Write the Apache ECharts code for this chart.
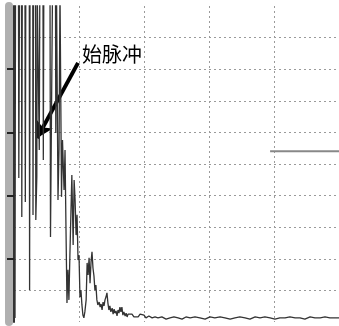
<!DOCTYPE html>
<html>
<head>
<meta charset="utf-8">
<script src="https://cdn.jsdelivr.net/npm/echarts@6/dist/echarts.min.js"></script>
<style>html,body{margin:0;padding:0;background:#fff;}#c{width:339px;height:326px;}</style>
</head>
<body>
<div id="c"></div>
<script>
// Time base (% of screen width) and echo amplitude (% of screen height); 105 = saturated (off screen)
const time = [0.31,0.46,1.38,1.48,1.69,2.31,2.40,2.55,3.38,3.48,3.63,4.71,4.80,4.92,5.78,5.85,6.00,6.62,6.71,7.02,7.14,7.69,7.78,7.94,8.92,9.02,9.17,11.08,11.23,11.85,12.77,12.86,13.08,13.38,13.54,13.85,14.15,14.46,14.62,14.92,15.4,15.7,16.0,16.3,16.6,16.9,17.2,17.5,17.8,18.2,18.5,18.8,19.1,19.4,19.7,20.0,20.3,20.6,20.9,21.2,21.5,21.8,22.2,22.5,22.8,23.1,23.4,23.7,24.0,24.3,24.6,24.9,25.2,25.5,25.8,26.2,26.5,26.8,27.1,27.4,27.7,28.0,28.3,28.6,28.9,29.2,29.5,29.8,30.2,30.5,30.8,31.1,31.4,31.7,32.0,32.3,32.6,32.9,33.2,33.5,33.8,34.2,34.5,34.8,35.1,35.7,36.3,36.9,37.5,38.2,38.8,39.4,40.0,40.6,41.5,42.5,43.4,44.3,45.5,46.8,48.0,49.2,50.5,51.7,52.9,54.2,55.7,57.2,58.8,60.3,61.8,63.4,64.9,66.5,68.0,69.5,71.1,72.6,74.2,75.7,77.2,78.8,80.3,81.8,83.4,84.9,86.5,88.0,89.5,91.1,92.6,94.2,95.7,97.2,98.8,100];
const amplitude = [1.3,105,105,45.6,105,105,33.2,105,105,38.0,105,105,10.1,105,105,33.9,105,105,32.3,45.9,105,105,54.4,105,105,51.3,105,105,26.9,105,105,59.8,105,105,38.6,54.4,105,105,39.6,57.6,41.8,54.4,29.1,6.0,16.5,7.0,21.2,33.9,46.5,24.4,44.9,38.6,27.5,33.9,19.6,21.2,7.9,10.1,5.4,2.2,1.3,3.2,7.0,18.7,14.9,20.3,12.3,19.0,22.2,17.1,14.6,10.1,11.7,7.0,5.4,6.3,4.7,5.7,3.8,6.3,5.1,7.0,7.9,9.2,6.0,3.8,5.1,3.2,4.4,2.5,4.1,2.8,3.5,1.9,3.8,2.8,4.7,3.2,4.7,2.2,3.2,1.9,2.8,1.6,2.5,1.9,2.5,1.6,2.2,1.6,2.5,1.9,2.2,1.3,1.9,1.3,1.6,1.3,1.6,0.9,1.3,1.6,1.3,0.9,1.6,1.3,1.6,1.3,0.9,1.6,1.3,1.6,1.3,0.9,1.3,1.6,1.3,0.9,1.6,1.3,1.6,1.3,0.9,1.3,1.3,1.6,1.3,1.3,0.9,1.6,1.3,1.3,1.6,1.3,1.3,1.3];
// Gate marker
const gateTime = [78.8, 100];
const gateLevel = [54, 54];
// Annotation arrow (tail -> head) and label
const arrowFrom = [19.7, 82];
const arrowTo = [7.1, 58.2];
const labelText = '始脉冲';
const tickLevels = [20, 40, 60, 80];

const chart = echarts.init(document.getElementById('c'), null, {renderer: 'canvas'});
const grid = {left: 14, right: 0, top: 6, bottom: 4};
const dotted = {show: true, showMinLine: false, showMaxLine: false, lineStyle: {color: '#9a9a9a', type: [2, 3], width: 1}};
chart.setOption({
  animation: false,
  backgroundColor: '#ffffff',
  grid: grid,
  xAxis: {type: 'value', min: 0, max: 100, interval: 20, axisLine: {show: false}, axisTick: {show: false}, axisLabel: {show: false}, splitLine: dotted},
  yAxis: [
    {type: 'value', min: 0, max: 100, interval: 10, z: 3, axisLine: {show: true, lineStyle: {color: '#333', width: 2}}, axisTick: {show: false}, axisLabel: {show: false}, splitLine: dotted},
    {type: 'value', min: 0, max: 100, interval: 20, position: 'left', z: 4, axisLine: {show: false}, axisTick: {show: true, length: 7, customValues: tickLevels, lineStyle: {color: '#222', width: 2}}, axisLabel: {show: false}, splitLine: {show: false}},
    {type: 'value', min: 0, max: 100, position: 'left', offset: 5, z: 2, axisLine: {show: true, lineStyle: {color: '#b0b0b0', width: 8}}, axisTick: {show: false}, axisLabel: {show: false}, splitLine: {show: false}}
  ],
  series: [
    {type: 'line', data: time.map((t, i) => [t, amplitude[i]]), showSymbol: false, clip: true, lineStyle: {color: '#333', width: 1.3}, z: 5},
    {type: 'line', data: gateTime.map((t, i) => [t, gateLevel[i]]), showSymbol: false, lineStyle: {color: '#888', width: 2}, z: 4,
     markLine: {silent: true, symbol: ['none', 'arrow'], symbolSize: [14, 16], label: {show: false},
       lineStyle: {color: '#000', width: 4, type: 'solid'},
       data: [[{coord: arrowFrom}, {coord: arrowTo}]]}}
  ],
  graphic: [{type: 'text', left: 82, top: 44, z: 10, style: {text: labelText, font: '20px "Noto Sans CJK SC"', fill: '#000'}}]
});
</script>
</body>
</html>
